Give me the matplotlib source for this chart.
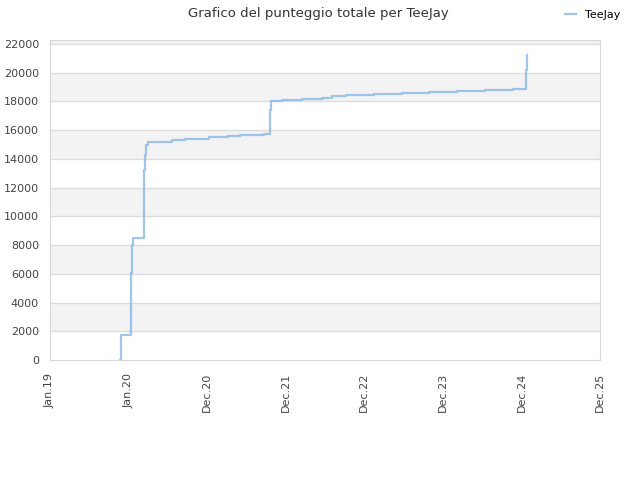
import datetime as dt

import matplotlib
matplotlib.use("Agg")
import matplotlib.dates as mdates
import matplotlib.pyplot as plt
import numpy as np

# step points: date when the total changed, new total
dates = [
    "2019-11-24", "2019-11-29", "2020-01-14", "2020-01-16", "2020-01-19",
    "2020-01-23", "2020-03-14", "2020-03-19", "2020-03-23", "2020-04-02",
    "2020-07-21", "2020-09-19", "2021-01-08", "2021-03-05", "2021-04-06",
    "2021-05-31", "2021-07-26", "2021-09-19", "2021-10-17", "2021-10-22",
    "2021-12-12", "2022-03-14", "2022-06-14", "2022-07-30", "2022-10-03",
    "2023-02-09", "2023-06-19", "2023-10-22", "2024-02-28", "2024-07-06",
    "2024-11-13", "2025-01-10", "2025-01-15", "2025-01-19",
]
scores = [
    0, 1740, 3130, 6040, 8000,
    8520, 13230, 14270, 14970, 15200,
    15340, 15420, 15500, 15540, 15590,
    15640, 15700, 15770, 17400, 18050,
    18120, 18190, 18270, 18410, 18480,
    18550, 18620, 18690, 18760, 18830,
    18900, 20190, 21110, 21230,
]
tick_start = dt.date(2019, 1, 5)
tick_step_days = 363
n_ticks = 7
y_ticks = list(range(0, 22001, 2000))
y_top = 22280

fig = plt.figure(figsize=(6.4, 4.8), dpi=100)
ax = fig.add_axes([50 / 640, 120 / 480, 550 / 640, 320 / 480])

x = [mdates.date2num(dt.date.fromisoformat(d)) for d in dates]
ax.plot(x, scores, drawstyle="steps-post", color="#7cb5ec", alpha=0.75,
        linewidth=1.6, label="TeeJay")

# alternating bands
edges = y_ticks + [y_top]
for i in range(len(edges) - 1):
    if i % 2 == 1:
        ax.axhspan(edges[i], edges[i + 1], color="#f3f3f3", zorder=0, lw=0)
for yv in y_ticks[1:]:
    ax.axhline(yv, color="#dddddd", linewidth=1, zorder=0.5)

ticks = [mdates.date2num(tick_start + dt.timedelta(days=k * tick_step_days))
         for k in range(n_ticks + 1)]
ax.set_xticks(ticks)
ax.set_xticklabels([mdates.num2date(t).strftime("%b.%y") for t in ticks],
                   rotation=90, fontsize=8, color="#444444")
ax.set_xlim(ticks[0], ticks[-1])
ax.set_ylim(0, y_top)
ax.set_yticks(y_ticks)
ax.set_yticklabels([str(v) for v in y_ticks], fontsize=8, color="#444444")
ax.tick_params(axis="x", length=0, pad=9)
ax.tick_params(axis="y", length=0, pad=8)

for s in ax.spines.values():
    s.set_color("#d8d8d8")

fig.suptitle("Grafico del punteggio totale per TeeJay", x=318 / 640, y=0.985,
             fontsize=9.5, color="#333333")
fig.legend(loc="upper right", bbox_to_anchor=(0.985, 1.0), frameon=False,
           fontsize=8, handlelength=1.0)

fig.savefig("out.png", dpi=100)
